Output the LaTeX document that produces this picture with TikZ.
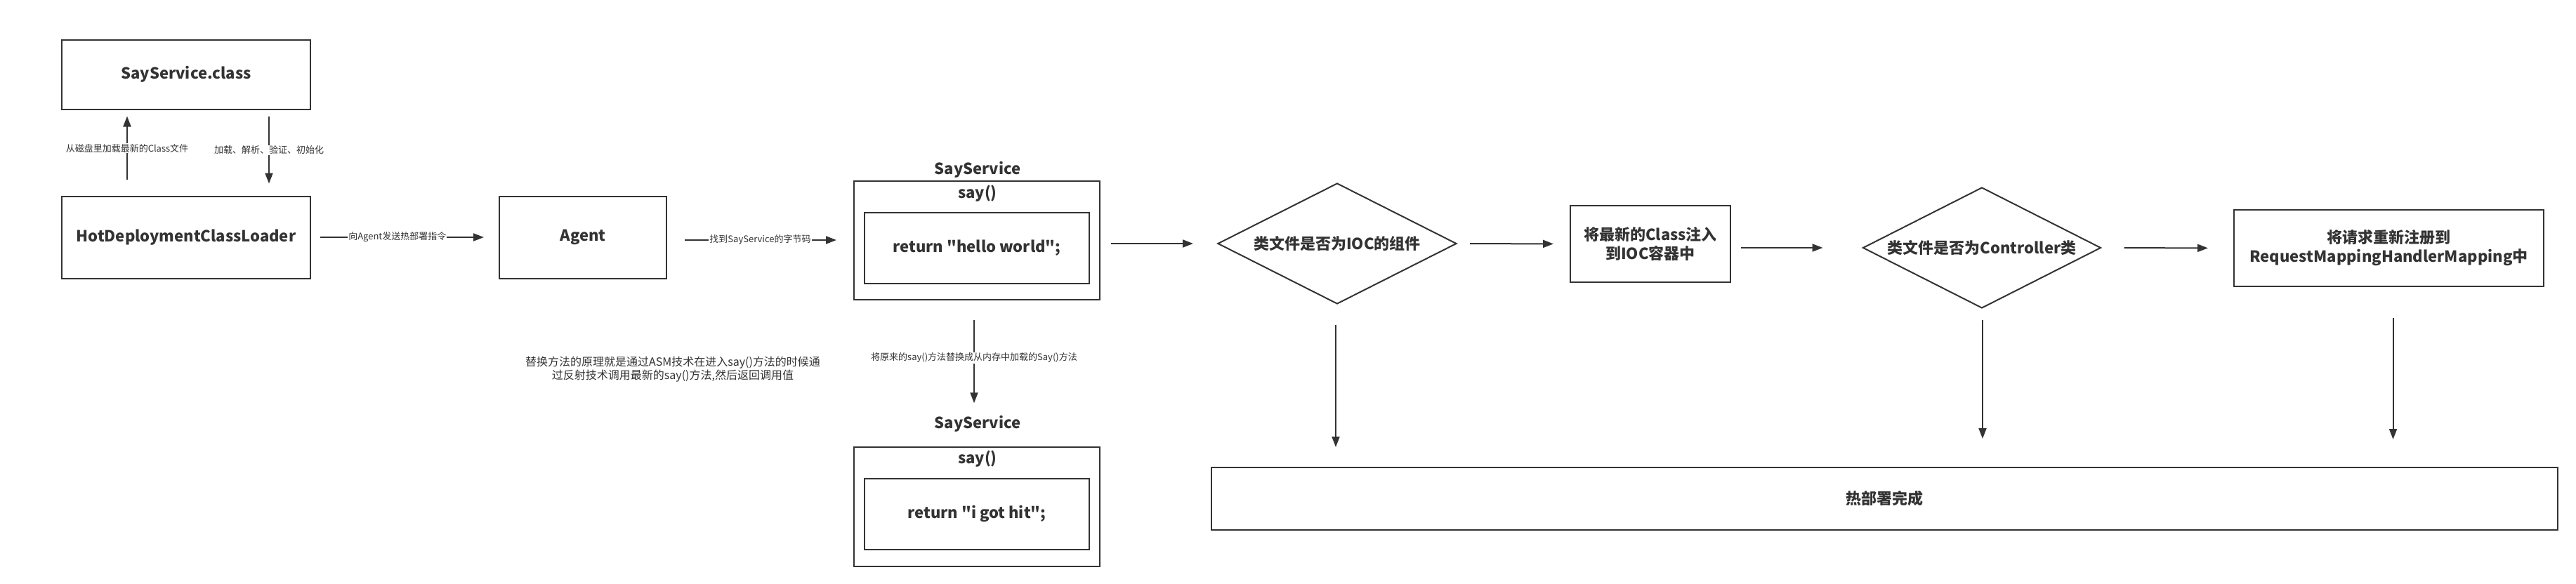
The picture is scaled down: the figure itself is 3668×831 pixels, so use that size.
\documentclass[tikz,border=0pt]{standalone}
\usepackage{fontspec}
\setmainfont{Noto Sans CJK SC}[Ligatures=TeXOff]
\usepackage{xcolor}
\usetikzlibrary{shapes.geometric,arrows.meta,positioning}
\definecolor{linegray}{RGB}{51,51,51}

\begin{document}
\begin{tikzpicture}[x=1pt,y=-1pt,
  box/.style={draw=linegray, line width=2pt, text=linegray, inner sep=0pt, align=center, font=\bfseries\fontsize{22}{27}\selectfont},
  decision/.style={box, diamond, aspect=2},
  headlbl/.style={text=linegray, inner sep=0pt, font=\bfseries\fontsize{22}{27}\selectfont},
  arr/.style={draw=linegray, line width=2pt, -{Triangle[length=15pt,width=11pt]}},
  lbl/.style={fill=white, text=linegray, inner sep=1pt, font=\fontsize{13}{15}\selectfont}]
\useasboundingbox (0,0) rectangle (3668,831);
% Class loading
\node[box, minimum width=354pt, minimum height=99pt] (cls) at (265,106) {SayService.class};
\node[box, minimum width=354pt, minimum height=117pt] (hdcl) at (265,338) {HotDeploymentClassLoader};
\node[box, minimum width=238pt, minimum height=117pt] (agent) at (830,338) {Agent};
% SayService before
\node[box, minimum width=350pt, minimum height=169pt] (svc1) at (1391,342) {};
\node[headlbl] (svc1 name) at (1392,242) {SayService};
\node[headlbl] (svc1 say) at (1392,276) {say()};
\node[box, minimum width=320pt, minimum height=101pt] (svc1 body) at (1391,353) {return "hello world";};
% SayService after
\node[box, minimum width=350pt, minimum height=170pt] (svc2) at (1391,722) {};
\node[headlbl] (svc2 name) at (1392,604) {SayService};
\node[headlbl] (svc2 say) at (1392,654) {say()};
\node[box, minimum width=320pt, minimum height=101pt] (svc2 body) at (1391,732) {return "i got hit";};
\node[text=linegray, align=center, font=\fontsize{16}{19}\selectfont] (note) at (958,526) {替换方法的原理就是通过ASM技术在进入say()方法的时候通\\过反射技术调用最新的say()方法,然后返回调用值};
% Spring side
\node[decision, minimum width=340pt, minimum height=172pt] (ioc check) at (1904,347) {类文件是否为IOC的组件};
\node[box, minimum width=228pt, minimum height=109pt] (inject) at (2350,347.5) {将最新的Class注入\\到IOC容器中};
\node[decision, minimum width=339pt, minimum height=172pt] (ctrl check) at (2822,353) {类文件是否为Controller类};
\node[box, minimum width=441pt, minimum height=109pt] (remap) at (3401.5,353.5) {将请求重新注册到\\RequestMappingHandlerMapping中};
\node[box, minimum width=1917pt, minimum height=89pt] (done) at (2683.5,710.5) {热部署完成};
% Connectors
\draw[arr, shorten <=23pt, shorten >=9pt] ([xshift=-84pt]hdcl.north) -- ([xshift=-84pt]cls.south) node[lbl, pos=0.55] {从磁盘里加载最新的Class文件};
\draw[arr, shorten <=9pt, shorten >=17pt] ([xshift=118pt]cls.south) -- ([xshift=118pt]hdcl.north) node[lbl, pos=0.47] {加载、解析、验证、初始化};
\draw[arr, shorten <=13pt, shorten >=21pt] (hdcl.east) -- (agent.west) node[lbl, pos=0.46] {向Agent发送热部署指令};
\draw[arr, shorten <=25pt, shorten >=24pt] (agent.east |- svc1.west) -- (svc1.west) node[lbl, midway] {找到SayService的字节码};
\draw[arr, shorten <=28pt, shorten >=18pt] ([xshift=-4pt]svc1.south) -- ([xshift=-4pt]svc1.south |- svc2 name.north) node[lbl, midway] {将原来的say()方法替换成从内存中加载的Say()方法};
\draw[arr, shorten <=15pt, shorten >=34pt] (svc1.east |- ioc check.west) -- (ioc check.west);
\draw[arr, shorten <=18pt, shorten >=23pt] (ioc check.east) -- (inject.west);
\draw[arr, shorten <=14pt, shorten >=56pt] (inject.east |- ctrl check.west) -- (ctrl check.west);
\draw[arr, shorten <=32pt, shorten >=36pt] (ctrl check.east) -- (remap.west);
\foreach \src/\dx/\sa/\sb in {ioc check/-2/29/28, ctrl check/1/16/40, remap/6/44/39} {
  \draw[arr, shorten <=\sa pt, shorten >=\sb pt] ([xshift=\dx pt]\src.south) -- ([xshift=\dx pt]\src.south |- done.north);
}
\end{tikzpicture}
\end{document}
